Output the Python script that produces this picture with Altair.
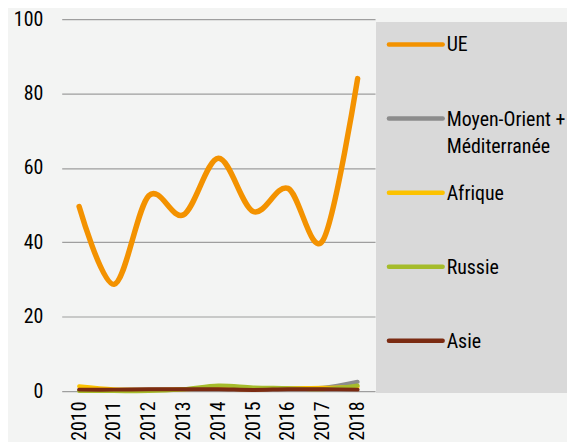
import altair as alt
import pandas as pd

years = ["2010", "2011", "2012", "2013", "2014", "2015", "2016", "2017", "2018"]
series = ["UE", "Moyen-Orient + Méditerranée", "Afrique", "Russie", "Asie"]
labels = ["UE", "Moyen-Orient +\nMéditerranée", "Afrique", "Russie", "Asie"]
colors = ["#f39200", "#8c8c8c", "#fcc200", "#a5bc2b", "#7b2b12"]

ue = [49.6, 28.7, 52.5, 47.4, 62.6, 48.3, 54.5, 40.5, 84.0]
moyen_orient = [0.2, 0.3, 0.4, 0.5, 0.8, 0.6, 0.7, 0.9, 2.5]
afrique = [1.3, 0.5, 0.4, 0.5, 0.6, 0.5, 0.8, 0.9, 1.2]
russie = [0.0, 0.0, 0.0, 0.5, 1.5, 1.0, 0.8, 0.5, 1.5]
asie = [0.4, 0.4, 0.5, 0.5, 0.5, 0.3, 0.5, 0.5, 0.4]

values = [ue, moyen_orient, afrique, russie, asie]
widths = [5.5, 4, 4, 4, 4]

FONT = "Liberation Sans Narrow, Roboto Condensed, DejaVu Sans Condensed, sans-serif"

rows = []
for s, vals in zip(series, values):
    for yr, v in zip(years, vals):
        rows.append({"year": yr, "serie": s, "value": v})
df = pd.DataFrame(rows)

color_scale = alt.Scale(domain=series, range=colors)

x_enc = alt.X(
    "year:O",
    scale=alt.Scale(type="point", padding=0.5),
    axis=alt.Axis(
        title=None, labelAngle=270, labelFontSize=20, labelFont=FONT,
        labelColor="#000000", labelPadding=10, ticks=False, domain=False, grid=False,
    ),
)
y_enc = alt.Y(
    "value:Q",
    scale=alt.Scale(domain=[0, 100], nice=False),
    axis=alt.Axis(
        title=None, values=[0, 20, 40, 60, 80, 100], labelFontSize=20, labelFont=FONT,
        labelColor="#000000", labelPadding=19, ticks=False, domain=False,
        grid=True, gridColor="#9e9e9e", gridWidth=1.2,
    ),
)

layers = []
for s, w in zip(series, widths):
    layers.append(
        alt.Chart(df)
        .transform_filter(alt.datum.serie == s)
        .mark_line(interpolate="cardinal", strokeWidth=w, strokeCap="round")
        .encode(x=x_enc, y=y_enc, color=alt.Color("serie:N", scale=color_scale, legend=None))
    )
main = alt.layer(*layers).properties(width=315, height=374)

LW = 192
LH = 376
leg_df = pd.DataFrame({"serie": series, "label": labels, "idx": list(range(len(series)))})
leg_y = alt.Scale(domain=[-0.342, 4.705], reverse=True)

leg_bg = (
    alt.Chart(leg_df)
    .transform_filter(alt.datum.idx == 0)
    .mark_rect(color="#d9d9d9")
    .encode(x=alt.value(0), x2=alt.value(LW), y=alt.value(3), y2=alt.value(LH))
)
leg_sym = (
    alt.Chart(leg_df)
    .mark_rule(strokeWidth=4.5, strokeCap="round")
    .encode(
        x=alt.value(13), x2=alt.value(67),
        y=alt.Y("idx:Q", scale=leg_y, axis=None),
        color=alt.Color("serie:N", scale=color_scale, legend=None),
    )
)
leg_txt = (
    alt.Chart(leg_df)
    .mark_text(align="left", baseline="alphabetic", dy=7, fontSize=20, font=FONT,
               lineBreak="\n", lineHeight=28, color="#000000")
    .encode(x=alt.value(71), y=alt.Y("idx:Q", scale=leg_y, axis=None), text="label:N")
)
legend = alt.layer(leg_bg, leg_sym, leg_txt).properties(width=LW, height=LH)

chart = (
    alt.hconcat(main, legend, spacing=1, bounds="flush")
    .configure(background="#f3f4f3", padding={"left": 5, "top": 0, "right": 0, "bottom": 0})
    .configure_view(strokeWidth=0)
)

chart.save("out.html", embed_options={"renderer": "svg", "actions": False})
